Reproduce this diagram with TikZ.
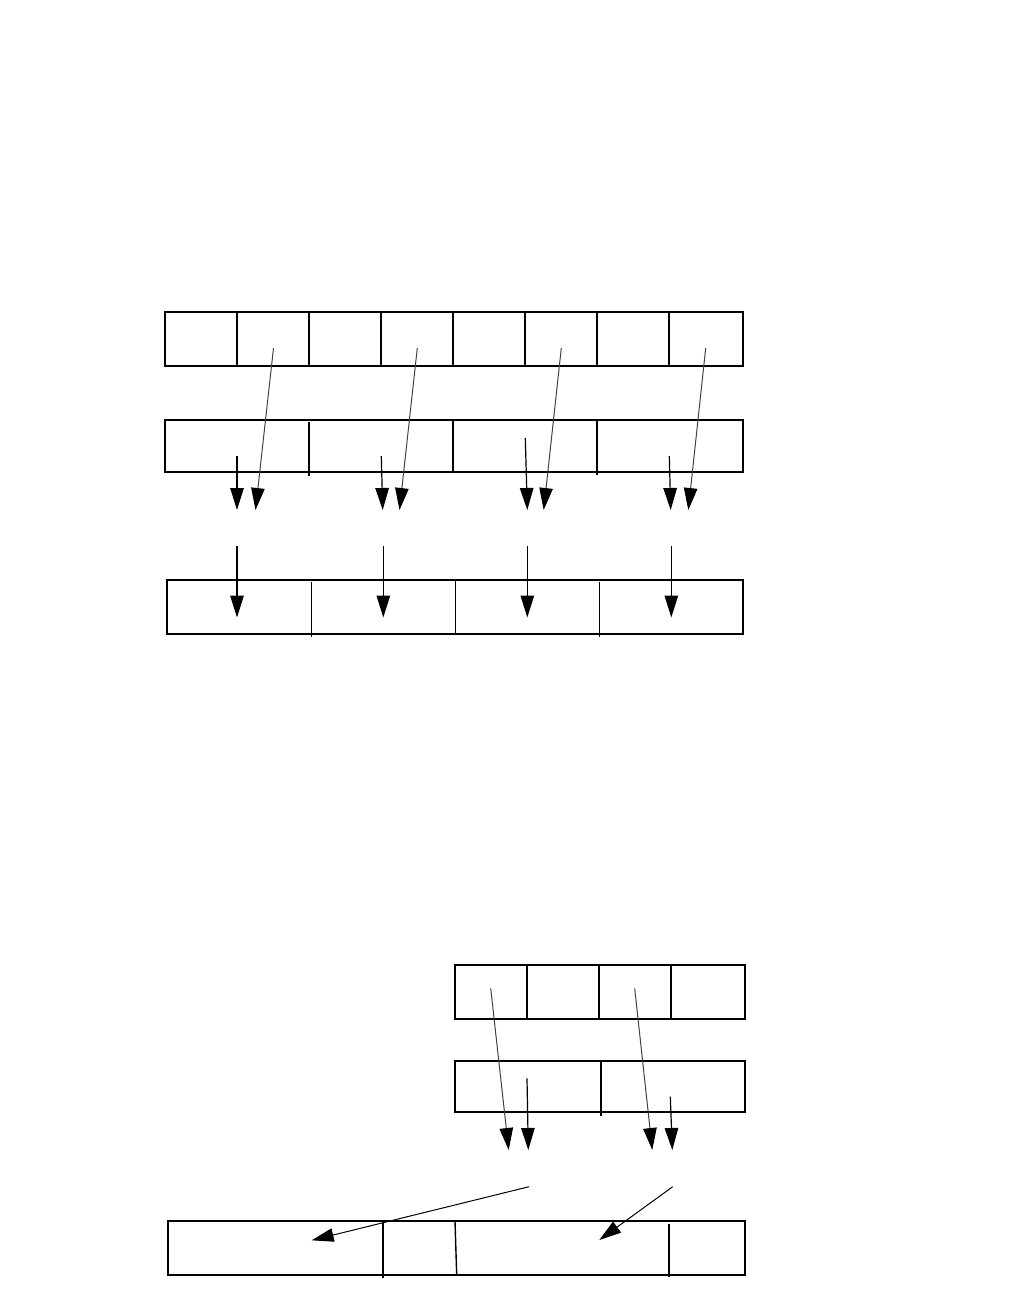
\documentclass[tikz,border=0pt]{standalone}
\usetikzlibrary{arrows.meta}
\begin{document}
\begin{tikzpicture}[x=1pt,y=-1pt,
  box/.style={draw=black,line width=1.4pt},
  bbox/.style={draw=black,line width=1.9pt},
  tip/.style={-{Triangle[length=22pt,width=13.5pt,color=black]}},
  slant/.style={tip,draw=black!75,line width=1pt},
  feed/.style={tip,draw=black,line width=1.2pt}]
\useasboundingbox (0,0) rectangle (1010,1296);
% ---------- upper diagram ----------
% row 1: eight cells
\draw[box] (165,312) rectangle (743,366);
\foreach \x in {237,309,381,453,525,597,669}
  \draw[box] (\x,312) -- (\x,366);
% row 2: four cells
\draw[box] (165,420) rectangle (743,472);
\draw[box] (309,422) -- (309,476);
\draw[box] (453,420) -- (453,472);
\draw[box] (597,420) -- (597,475);
% row 3: four cells
\draw[box] (167,580) rectangle (743,634);
\draw[box] (311.5,582) -- (311.5,637);
\draw[box] (455.3,580) -- (455.3,634);
\draw[box] (599.3,582) -- (599.3,637);
% slanted arrows from row 1
\coordinate (a1) at (273.5,348); \coordinate (a1t) at (255.5,510);
\coordinate (a2) at (417.3,348); \coordinate (a2t) at (399.5,510);
\coordinate (a3) at (561.3,348); \coordinate (a3t) at (543.7,510);
\coordinate (a4) at (705.7,348); \coordinate (a4t) at (688.3,510);
\draw[slant] (a1) -- (a1t);
\draw[slant] (a2) -- (a2t);
\draw[slant] (a3) -- (a3t);
\draw[slant] (a4) -- (a4t);
% short arrows from row 2
\coordinate (b1) at (237,456); \coordinate (b1t) at (237,510);
\coordinate (b2) at (381.3,456); \coordinate (b2t) at (382.7,510);
\coordinate (b3) at (525.3,438); \coordinate (b3t) at (527.3,510);
\coordinate (b4) at (669.3,456); \coordinate (b4t) at (670.7,510);
\draw[feed] (b1) -- (b1t);
\draw[feed] (b2) -- (b2t);
\draw[feed] (b3) -- (b3t);
\draw[feed] (b4) -- (b4t);
% arrows into row 3
\coordinate (c1) at (237,546); \coordinate (c1t) at (237,617.5);
\coordinate (c2) at (383.3,546); \coordinate (c2t) at (383.3,617.5);
\coordinate (c3) at (527.3,546); \coordinate (c3t) at (527.3,617.5);
\coordinate (c4) at (671.3,546); \coordinate (c4t) at (671.3,617.5);
\draw[feed] (c1) -- (c1t);
\draw[feed] (c2) -- (c2t);
\draw[feed] (c3) -- (c3t);
\draw[feed] (c4) -- (c4t);
% ---------- lower diagram ----------
% row 1: four cells
\draw[bbox] (454.7,965) rectangle (745,1019.3);
\foreach \x in {527,598.7,670.7}
  \draw[bbox] (\x,965) -- (\x,1019.3);
% row 2: two cells
\draw[bbox] (454.7,1060.7) rectangle (745,1112.3);
\draw[bbox] (601,1061) -- (601,1115.7);
% row 3: four unequal cells
\draw[bbox] (168.3,1221.3) rectangle (745,1275);
\draw[bbox] (382.7,1221.3) -- (382.7,1277.7);
\draw[box] (455,1221.3) -- (456.7,1275);
\draw[bbox] (669,1224) -- (669,1277.3);
% slanted arrows from row 1
\coordinate (d1) at (490.7,988.3); \coordinate (d1t) at (508.7,1150);
\coordinate (d2) at (634.7,988.3); \coordinate (d2t) at (652.3,1150);
\draw[slant] (d1) -- (d1t);
\draw[slant] (d2) -- (d2t);
% short arrows from row 2
\coordinate (e1) at (527,1078.3); \coordinate (e1t) at (528.3,1150);
\coordinate (e2) at (670.3,1096.7); \coordinate (e2t) at (672.3,1150);
\draw[feed] (e1) -- (e1t);
\draw[feed] (e2) -- (e2t);
% long arrows into row 3
\coordinate (f1) at (529,1186.7); \coordinate (f1t) at (311.7,1240.3);
\coordinate (f2) at (672.7,1186.7); \coordinate (f2t) at (599.3,1240);
\draw[feed,line width=1pt] (f1) -- (f1t);
\draw[feed,line width=1pt] (f2) -- (f2t);
\end{tikzpicture}
\end{document}
